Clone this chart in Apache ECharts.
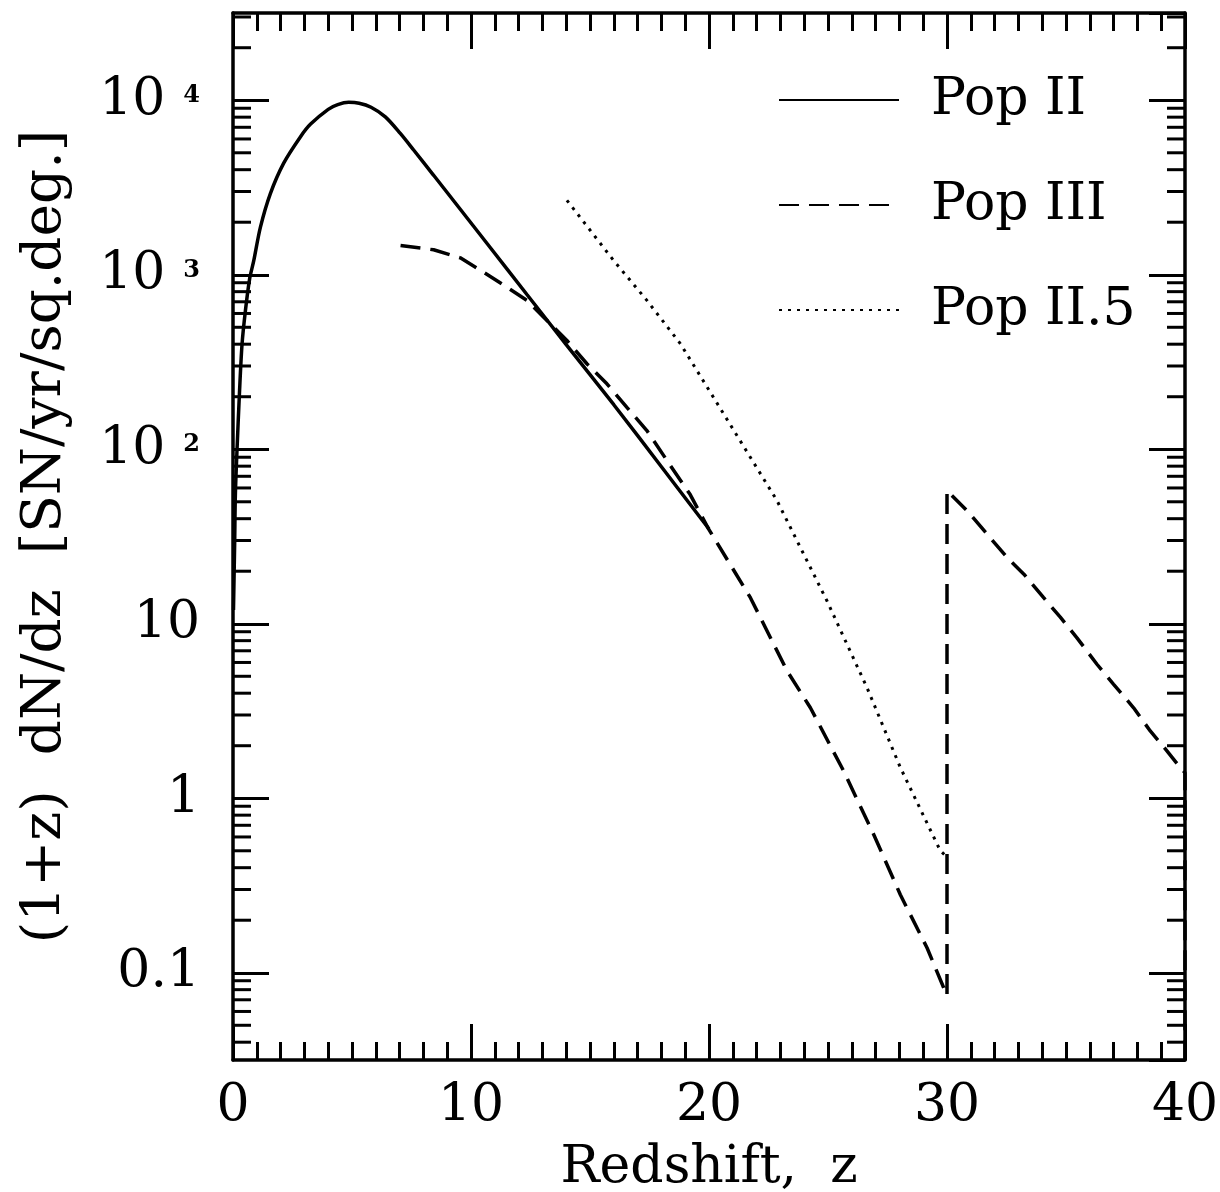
<!DOCTYPE html>
<html><head><meta charset="utf-8">
<script src="https://cdn.jsdelivr.net/npm/echarts@6/dist/echarts.min.js"></script>
<style>html,body{margin:0;padding:0;background:#fff}#c{width:1220px;height:1192px}</style>
</head><body><div id="c"></div>
<script>
// ---- data ----
const popII_z = [0.02, 0.07, 0.10, 0.17, 0.27, 0.38, 0.52, 0.70, 0.87, 1.15, 1.57, 2.13, 2.83, 3.25, 4.0, 4.4, 4.86, 5.3, 5.8, 6.4, 7.03, 7.59, 8.43, 9.5, 10.7, 12.35, 14, 16, 18, 20];
const popII_v = [12, 29, 55, 100, 208, 400, 620, 950, 1200, 1870, 2920, 4365, 6166, 7280, 8870, 9440, 9730, 9616, 9120, 8035, 6457, 5188, 3715, 2421, 1496, 771, 398, 180, 79.4, 34.9];

const popIII_z = [7.04, 8.43, 9.55, 10.53, 11.51, 12.35, 13.19, 14.03, 14.87, 15.71, 16.55, 17.39, 18.24, 19.21, 19.98, 21.74, 23.28, 24.26, 25.66, 26.92, 28.04, 29.16, 29.86, 30.0, 30.0, 30.84, 31.68, 32.52, 33.22, 34.06, 34.76, 35.46, 36.3, 37.0, 37.84, 38.54, 39.24, 39.8, 40.0, 40.0];
const popIII_v = [1470, 1390, 1250, 1035, 849, 713, 547, 420, 309, 237, 174, 128, 86, 55, 35, 14.1, 5.37, 3.3, 1.43, 0.62, 0.28, 0.139, 0.082, 0.074, 57.8, 44.5, 32.7, 24, 19.3, 14.1, 10.9, 8.3, 5.86, 4.5, 3.3, 2.43, 1.87, 1.5, 1.4, 0.03];

const popII5_z = [14.03, 15.99, 17.39, 18.8, 20.4, 22.86, 24.96, 26.64, 28.04, 29.72, 29.93];
const popII5_v = [2670, 1208, 713, 402, 178, 50.7, 13.5, 4.3, 1.5, 0.50, 0.47];

const seriesNames = ['Pop II', 'Pop III', 'Pop II.5'];
const xTickLabels = ['0', '10', '20', '30', '40'];
const yDecades = [-1, 0, 1, 2, 3, 4];
const yTickLabels = ['0.1', '1', '10', '10{s|2}', '10{s|3}', '10{s|4}'];
const xTitle = 'Redshift,  z';
const yTitle = '(1+z)  dN/dz  [SN/yr/sq.deg.]';

// ---- helpers ----
const pairs = (zs, vs) => zs.map((z, i) => [z, vs[i]]);
const YMIN = Math.pow(10, -1.5), YMAX = Math.pow(10, 4.5);
const minorVals = [];
for (let e = -2; e <= 4; e++) for (let m = 2; m <= 9; m++) {
  const v = m * Math.pow(10, e);
  if (v > YMIN && v < YMAX) minorVals.push([0, v]);
}
const FONT = 'DejaVu Serif';
const BLACK = '#000';
const LW = 3.5;

function yLabel(v) {
  const l = Math.log10(v), e = Math.round(l);
  if (Math.abs(l - e) > 0.01) return '';
  const i = yDecades.indexOf(e);
  return i >= 0 ? yTickLabels[i] : '';
}

const chart = echarts.init(document.getElementById('c'), null, {renderer: 'canvas'});
const axisLineStyle = {show: true, onZero: false, lineStyle: {color: BLACK, width: LW}};
const xTickStyle = {show: true, inside: true, length: 36, lineStyle: {color: BLACK, width: 3}};
const xMinor = {show: true, splitNumber: 10, length: 18, lineStyle: {color: BLACK, width: 3}};
const yTickStyle = {show: true, inside: true, length: 36, lineStyle: {color: BLACK, width: 3}};

chart.setOption({
  backgroundColor: '#fff',
  animation: false,
  grid: {left: 233, right: 35, top: 13, bottom: 132, containLabel: false, outerBoundsMode: 'none'},
  legend: {
    data: seriesNames,
    orient: 'vertical',
    left: 773, top: 67,
    itemWidth: 120, itemHeight: 20, itemGap: 49,
    selectedMode: false,
    itemStyle: {color: 'rgba(0,0,0,0)', opacity: 0, borderWidth: 0},
    textStyle: {fontFamily: FONT, fontSize: 52, color: BLACK, lineHeight: 56, padding: [0, 0, 0, 27]}
  },
  xAxis: [{
    type: 'value', min: 0, max: 40, interval: 10, position: 'bottom',
    axisLine: axisLineStyle, axisTick: xTickStyle, minorTick: xMinor,
    splitLine: {show: false},
    axisLabel: {fontFamily: FONT, fontSize: 52, color: BLACK, margin: 20,
      formatter: v => xTickLabels[Math.round(v / 10)]},
    name: xTitle, nameLocation: 'middle', nameGap: 82,
    nameTextStyle: {fontFamily: FONT, fontSize: 52, color: BLACK}
  }, {
    type: 'value', min: 0, max: 40, interval: 10, position: 'top',
    axisLine: axisLineStyle, axisTick: xTickStyle, minorTick: xMinor,
    splitLine: {show: false}, axisLabel: {show: false}
  }],
  yAxis: [{
    type: 'log', logBase: 10, min: YMIN, max: YMAX, position: 'left',
    axisLine: axisLineStyle, axisTick: yTickStyle,
    splitLine: {show: false},
    axisLabel: {fontFamily: FONT, fontSize: 52, lineHeight: 52, color: BLACK, margin: 33,
      showMinLabel: false, showMaxLabel: false, formatter: yLabel,
      rich: {s: {fontFamily: FONT, fontSize: 24, fontWeight: 'bold', lineHeight: 24,
        verticalAlign: 'top', padding: [10, 0, 0, 18], color: BLACK}}},
    name: yTitle, nameLocation: 'middle', nameGap: 160,
    nameTextStyle: {fontFamily: FONT, fontSize: 55, color: BLACK}
  }, {
    type: 'log', logBase: 10, min: YMIN, max: YMAX, position: 'right',
    axisLine: axisLineStyle, axisTick: yTickStyle,
    splitLine: {show: false}, axisLabel: {show: false}
  }],
  series: [
    {name: 'Pop II', type: 'line', data: pairs(popII_z, popII_v), showSymbol: false, symbol: 'none',
      smooth: 0.3, lineStyle: {color: BLACK, width: LW, type: 'solid'}, itemStyle: {color: BLACK}, clip: true, silent: true},
    {name: 'Pop III', type: 'line', data: pairs(popIII_z, popIII_v), showSymbol: false, symbol: 'none',
      lineStyle: {color: BLACK, width: LW, type: [20, 10]}, itemStyle: {color: BLACK}, clip: true, silent: true},
    {name: 'Pop II.5', type: 'line', data: pairs(popII5_z, popII5_v), showSymbol: false, symbol: 'none',
      lineStyle: {color: BLACK, width: 3, type: [3, 6]}, itemStyle: {color: BLACK}, clip: true, silent: true},
    {type: 'custom', data: minorVals, silent: true, clip: false, z: 5,
      renderItem: function (params, api) {
        const v = api.value(1);
        const pL = api.coord([0, v]), pR = api.coord([40, v]);
        return {type: 'group', children: [
          {type: 'line', shape: {x1: pL[0], y1: pL[1], x2: pL[0] + 18, y2: pL[1]}, style: {stroke: BLACK, lineWidth: 3}},
          {type: 'line', shape: {x1: pR[0] - 18, y1: pR[1], x2: pR[0], y2: pR[1]}, style: {stroke: BLACK, lineWidth: 3}}
        ]};
      }}
  ]
});
</script></body></html>
